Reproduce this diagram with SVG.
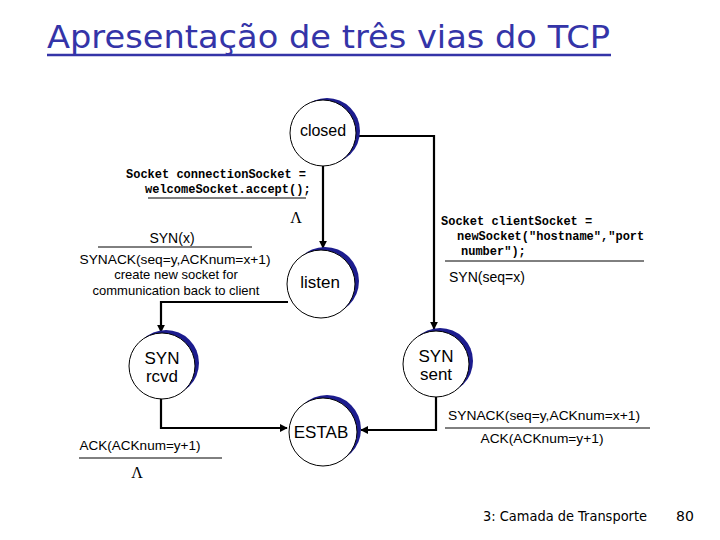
<svg xmlns="http://www.w3.org/2000/svg" width="720" height="540" viewBox="0 0 720 540">
<defs>
<style>
.title{font-family:"DejaVu Sans","Liberation Sans",sans-serif;font-size:32px;fill:#3434a8}
.shadow{fill:#1c1c8e;stroke:none}
.st{fill:#fff;stroke:#000;stroke-width:1}
.nt{font-family:"Liberation Sans",Arial,sans-serif;font-size:17px;fill:#000;text-anchor:middle}
.code{font-family:"Liberation Mono","Courier New",monospace;font-weight:bold;font-size:12px;fill:#000}
.lbl{font-family:"Liberation Sans",Arial,sans-serif;font-size:13px;fill:#000}
.lam{font-family:"Liberation Serif","Times New Roman",serif;font-size:16px;fill:#000;text-anchor:middle}
.foot{font-family:"DejaVu Sans","Liberation Sans",sans-serif;font-size:14px;fill:#000}
.conn{fill:none;stroke:#000;stroke-width:2.2}
.rule{stroke:#000;stroke-width:1}
</style>
<marker id="arr" viewBox="0 0 10 10" refX="9" refY="5" markerWidth="3.6" markerHeight="3.6" orient="auto" markerUnits="strokeWidth">
<path d="M0,0 L10,5 L0,10 z" fill="#000"/>
</marker>
</defs>
<rect width="720" height="540" fill="#fff"/>

<g id="title">
<text class="title" x="47" y="48" textLength="563" lengthAdjust="spacingAndGlyphs">Apresentação de três vias do TCP</text>
<line x1="47" y1="55" x2="611" y2="55" stroke="#3434a8" stroke-width="2.5"/>
</g>

<g id="connectors">
<polyline class="conn" points="323,166 323,248" marker-end="url(#arr)"/>
<polyline class="conn" points="358,136 434,136 434,329" marker-end="url(#arr)"/>
<polyline class="conn" points="288,302 161,302 161,332" marker-end="url(#arr)"/>
<polyline class="conn" points="161,397 161,428 287,428" marker-end="url(#arr)"/>
<polyline class="conn" points="436,396 436,430 361,430" marker-end="url(#arr)"/>
</g>

<g id="closed">
<circle class="shadow" cx="327" cy="131" r="33"/>
<circle class="st" cx="323" cy="133" r="33"/>
<text class="nt" x="323" y="136" style="font-size:16px">closed</text>
</g>

<g id="listen">
<circle class="shadow" cx="325" cy="281" r="34"/>
<circle class="st" cx="321" cy="284" r="34"/>
<text class="nt" x="320" y="288">listen</text>
</g>

<g id="syn-rcvd">
<circle class="shadow" cx="166" cy="363" r="33"/>
<circle class="st" cx="162" cy="366" r="33"/>
<text class="nt" x="162" y="364">SYN</text>
<text class="nt" x="162" y="382">rcvd</text>
</g>

<g id="syn-sent">
<circle class="shadow" cx="440" cy="361" r="33"/>
<circle class="st" cx="436" cy="364" r="33"/>
<text class="nt" x="436" y="362">SYN</text>
<text class="nt" x="436" y="380">sent</text>
</g>

<g id="estab">
<circle class="shadow" cx="327" cy="429" r="34"/>
<circle class="st" cx="323" cy="432" r="34"/>
<text class="nt" x="321" y="438">ESTAB</text>
</g>

<g id="labels">
<text class="code" x="126" y="178">Socket connectionSocket =</text>
<text class="code" x="145" y="193">welcomeSocket.accept();</text>
<line class="rule" x1="148" y1="198" x2="306" y2="198"/>
<text class="lam" x="296" y="223">Λ</text>

<text class="lbl" x="172" y="243" text-anchor="middle" style="font-size:14px">SYN(x)</text>
<line class="rule" x1="98" y1="247" x2="252" y2="247"/>
<text class="lbl" x="175" y="264" text-anchor="middle" textLength="191" lengthAdjust="spacingAndGlyphs">SYNACK(seq=y,ACKnum=x+1)</text>
<text class="lbl" x="176" y="279" text-anchor="middle">create new socket for</text>
<text class="lbl" x="176" y="295" text-anchor="middle">communication back to client</text>

<text class="code" x="441" y="225">Socket clientSocket =</text>
<text class="code" x="457" y="240">newSocket("hostname","port</text>
<text class="code" x="461" y="255">number");</text>
<line class="rule" x1="445" y1="261" x2="644" y2="261"/>
<text class="lbl" x="449" y="282" style="font-size:14px">SYN(seq=x)</text>

<text class="lbl" x="544" y="420" text-anchor="middle" textLength="192" lengthAdjust="spacingAndGlyphs">SYNACK(seq=y,ACKnum=x+1)</text>
<line class="rule" x1="445" y1="428" x2="650" y2="428"/>
<text class="lbl" x="542" y="443" text-anchor="middle" textLength="123" lengthAdjust="spacingAndGlyphs">ACK(ACKnum=y+1)</text>

<text class="lbl" x="140" y="450" text-anchor="middle" textLength="121" lengthAdjust="spacingAndGlyphs">ACK(ACKnum=y+1)</text>
<line class="rule" x1="79" y1="458" x2="222" y2="458"/>
<text class="lam" x="137" y="478">Λ</text>
</g>

<g id="footer">
<text class="foot" x="483" y="521" textLength="164" lengthAdjust="spacingAndGlyphs">3: Camada de Transporte</text>
<text class="foot" x="676" y="521">80</text>
</g>
</svg>
